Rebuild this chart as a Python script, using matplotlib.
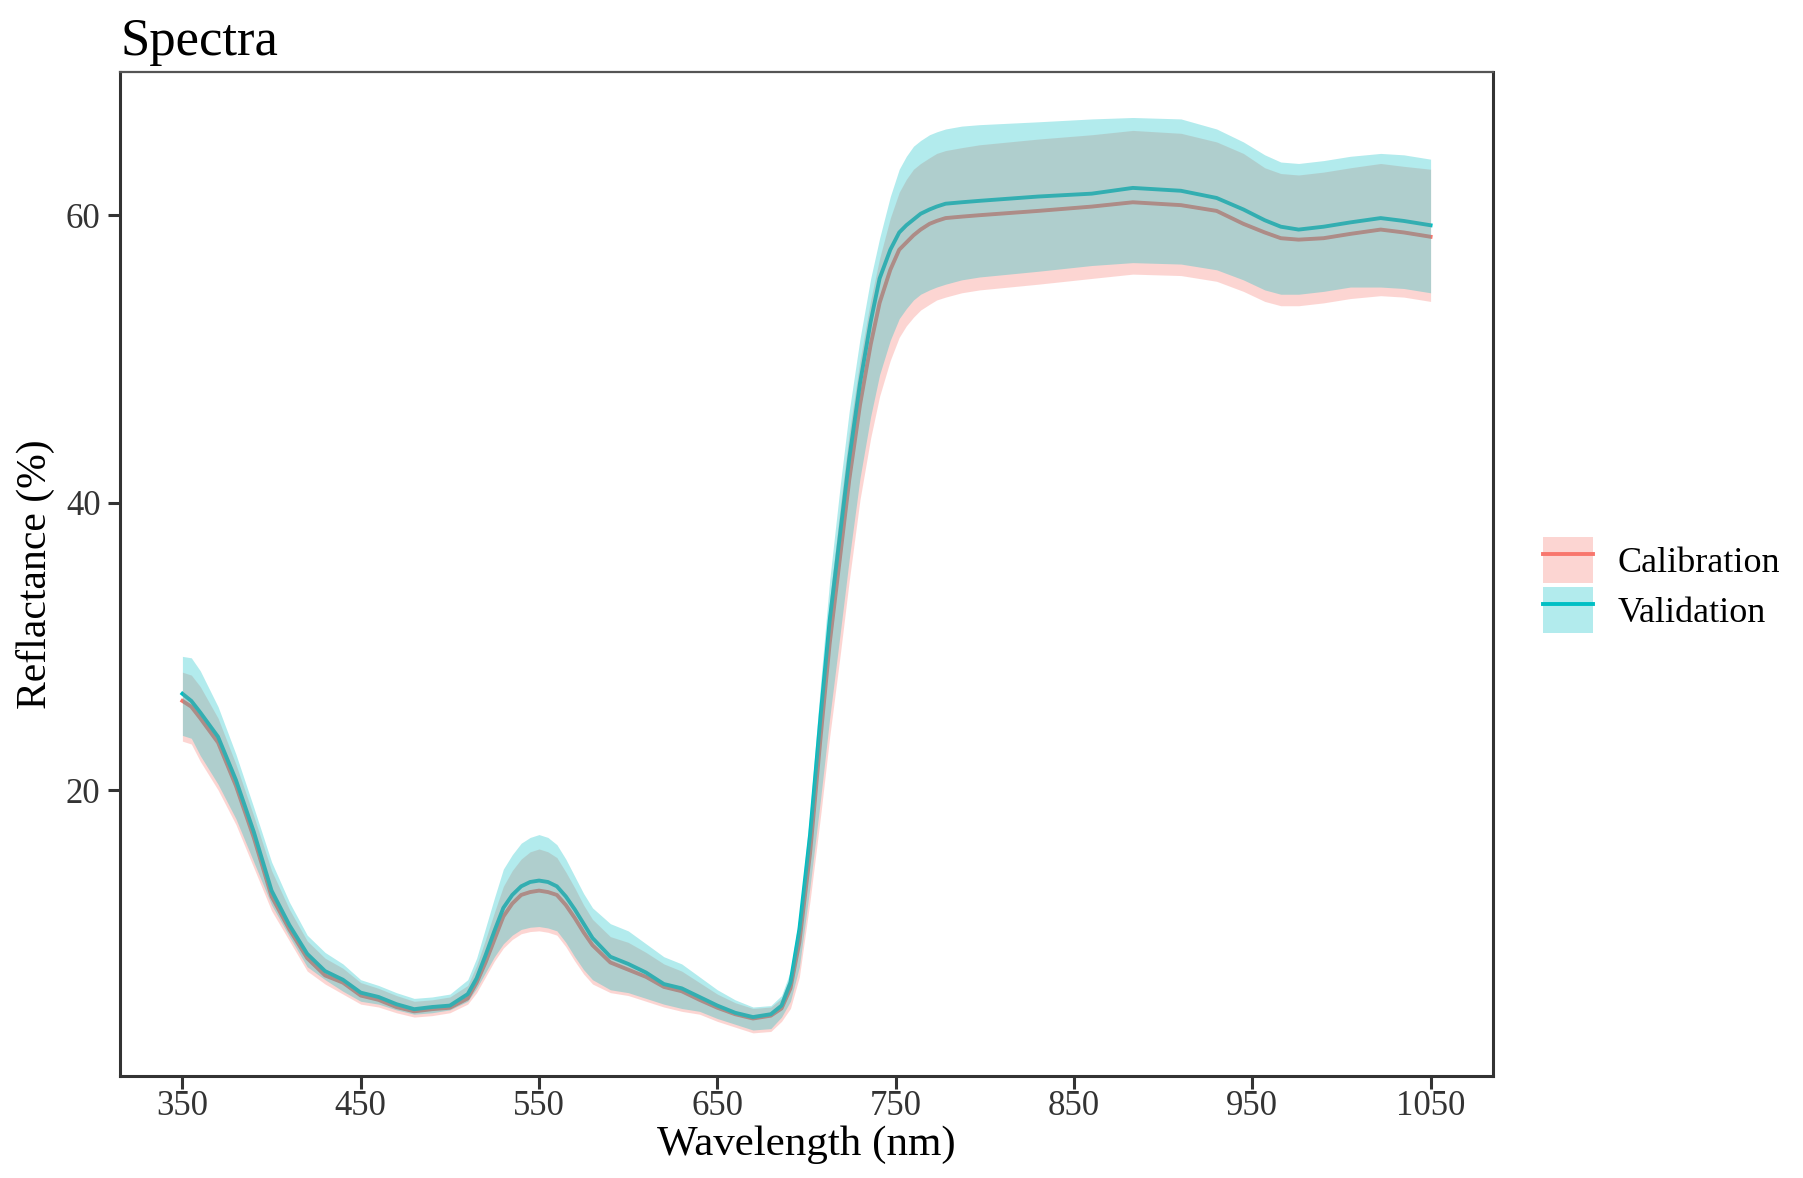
import matplotlib
matplotlib.use("Agg")
import matplotlib.pyplot as plt
from matplotlib.patches import Patch
from matplotlib.lines import Line2D

plt.rcParams['font.family'] = ['Liberation Serif', 'DejaVu Serif']

wavelength = [350, 355, 360, 370, 380, 390, 400, 410, 420, 430, 440, 450, 460, 470, 480, 490, 500, 510,
              515, 520, 525, 530, 535, 540, 545, 550, 555, 560, 565, 570, 575, 580, 590, 600, 610, 620,
              630, 640, 650, 660, 670, 680, 686, 691, 696, 702, 708, 713, 719, 724, 730, 736, 741, 747,
              752, 756, 760, 764, 769, 773, 778, 787, 797, 830, 860, 883, 910, 930, 945, 957, 966, 976,
              990, 1005, 1022, 1035, 1050]

cal_mean = [26.2, 25.8, 25.0, 23.3, 20.3, 16.7, 12.6, 10.3, 8.3, 7.1, 6.6, 5.7, 5.4, 4.9, 4.6, 4.75, 4.85, 5.5,
            6.6, 8.0, 9.6, 11.2, 12.1, 12.7, 12.9, 13.0, 12.9, 12.7, 12.0, 11.1, 10.1, 9.2, 8.0, 7.5, 7.0, 6.3,
            6.0, 5.4, 4.85, 4.4, 4.1, 4.3, 4.8, 6.2, 9.4, 15.6, 23.8, 30.2, 36.4, 41.6, 46.8, 51.0, 53.9, 56.2,
            57.6, 58.1, 58.6, 59.0, 59.4, 59.6, 59.8, 59.9, 60.0, 60.3, 60.6, 60.9, 60.7, 60.3, 59.4, 58.8, 58.4, 58.3,
            58.4, 58.7, 59.0, 58.8, 58.5]
cal_lower = [23.4, 23.2, 22.0, 20.0, 17.6, 14.6, 11.6, 9.5, 7.4, 6.5, 5.8, 5.1, 4.9, 4.5, 4.2, 4.3, 4.5, 5.1,
             5.9, 7.0, 8.1, 9.0, 9.6, 10.0, 10.15, 10.2, 10.1, 9.9, 9.1, 8.1, 7.2, 6.5, 5.9, 5.7, 5.3, 4.9,
             4.6, 4.4, 3.9, 3.5, 3.1, 3.2, 3.9, 4.8, 7.0, 12.3, 18.3, 23.7, 29.5, 34.6, 40.2, 44.5, 47.4, 49.9,
             51.5, 52.3, 52.9, 53.4, 53.8, 54.1, 54.3, 54.6, 54.8, 55.2, 55.6, 55.9, 55.8, 55.4, 54.7, 54.0, 53.7, 53.7,
             53.9, 54.2, 54.4, 54.3, 54.0]
cal_upper = [28.2, 28.0, 27.2, 25.0, 21.8, 18.2, 14.4, 11.7, 9.5, 8.3, 7.6, 6.6, 6.2, 5.7, 5.3, 5.4, 5.6, 6.4,
             7.8, 9.6, 11.5, 13.3, 14.4, 15.2, 15.7, 15.9, 15.7, 15.3, 14.3, 13.2, 12.0, 11.0, 9.8, 9.4, 8.7, 7.9,
             7.4, 6.6, 5.8, 5.2, 4.8, 4.9, 5.5, 7.1, 10.8, 17.7, 26.4, 33.2, 39.8, 44.9, 49.9, 54.1, 57.0, 59.8,
             61.6, 62.5, 63.2, 63.6, 64.0, 64.3, 64.5, 64.7, 64.9, 65.3, 65.6, 65.9, 65.7, 65.1, 64.3, 63.3, 62.9, 62.8,
             63.0, 63.3, 63.6, 63.4, 63.2]

val_mean = [26.7, 26.2, 25.4, 23.7, 20.7, 17.1, 13.0, 10.6, 8.6, 7.4, 6.8, 5.9, 5.6, 5.1, 4.75, 4.9, 5.0, 5.8,
            6.9, 8.5, 10.2, 11.8, 12.7, 13.3, 13.6, 13.7, 13.6, 13.3, 12.6, 11.7, 10.7, 9.7, 8.4, 7.9, 7.3, 6.5,
            6.2, 5.6, 5.0, 4.5, 4.2, 4.4, 5.0, 6.6, 10.3, 16.9, 25.3, 31.8, 38.0, 43.1, 48.3, 52.6, 55.6, 57.6,
            58.8, 59.3, 59.7, 60.1, 60.4, 60.6, 60.8, 60.9, 61.0, 61.3, 61.5, 61.9, 61.7, 61.2, 60.4, 59.65, 59.2, 59.0,
            59.2, 59.5, 59.8, 59.6, 59.3]
val_lower = [23.8, 23.6, 22.4, 20.4, 18.0, 15.0, 12.0, 9.8, 7.7, 6.8, 6.0, 5.3, 5.1, 4.7, 4.4, 4.5, 4.7, 5.3,
             6.2, 7.3, 8.4, 9.3, 9.9, 10.3, 10.45, 10.5, 10.4, 10.2, 9.4, 8.4, 7.5, 6.8, 6.1, 5.9, 5.5, 5.1,
             4.8, 4.6, 4.1, 3.7, 3.3, 3.4, 4.2, 5.3, 7.7, 13.3, 19.5, 25.0, 31.0, 36.1, 41.7, 46.0, 48.9, 51.3,
             52.8, 53.5, 54.1, 54.5, 54.8, 55.0, 55.2, 55.5, 55.7, 56.1, 56.5, 56.7, 56.6, 56.2, 55.5, 54.8, 54.5, 54.5,
             54.7, 55.0, 55.0, 54.9, 54.6]
val_upper = [29.3, 29.2, 28.3, 25.8, 22.5, 18.8, 15.0, 12.2, 9.9, 8.7, 7.9, 6.8, 6.4, 5.9, 5.5, 5.6, 5.8, 6.8,
             8.3, 10.4, 12.5, 14.5, 15.5, 16.3, 16.7, 16.9, 16.7, 16.2, 15.2, 14.0, 12.8, 11.8, 10.7, 10.2, 9.3, 8.4,
             7.9, 7.0, 6.1, 5.4, 4.9, 5.0, 5.7, 7.4, 11.3, 18.5, 27.6, 34.6, 41.3, 46.4, 51.4, 55.6, 58.4, 61.3,
             63.2, 64.1, 64.8, 65.2, 65.6, 65.8, 66.0, 66.2, 66.3, 66.5, 66.7, 66.8, 66.7, 66.0, 65.1, 64.2, 63.7, 63.6,
             63.8, 64.1, 64.3, 64.2, 63.9]

series_names = ["Calibration", "Validation"]
series_colors = ["#F8766D", "#00BFC4"]
x_ticks = [350, 450, 550, 650, 750, 850, 950, 1050]
y_ticks = [20, 40, 60]

W, H = 1803, 1178
fig = plt.figure(figsize=(W / 100, H / 100), dpi=100)
ax = fig.add_axes([120 / W, 1 - 1076 / H, (1493 - 120) / W, (1076 - 71.5) / H])

# lines first, ribbons on top (as in the reference)
ax.plot(wavelength, cal_mean, color=series_colors[0], lw=2.8, zorder=2)
ax.plot(wavelength, val_mean, color=series_colors[1], lw=2.8, zorder=2)
ax.fill_between(wavelength, cal_lower, cal_upper, color=series_colors[0], alpha=0.3, lw=0, zorder=3)
ax.fill_between(wavelength, val_lower, val_upper, color=series_colors[1], alpha=0.3, lw=0, zorder=4)

ax.set_xlim(315, 1085)
ax.set_ylim(0.1, 70.0)
ax.set_xticks(x_ticks)
ax.set_yticks(y_ticks)
ax.tick_params(axis='both', direction='out', length=9, width=2.2, color='#333333',
               labelsize=25, labelcolor='#333333')
ax.tick_params(axis='x', pad=1)
ax.tick_params(axis='y', pad=5)

for side in ['left', 'bottom', 'right']:
    ax.spines[side].set_linewidth(2.2)
    ax.spines[side].set_color('#333333')
ax.spines['top'].set_linewidth(1.6)
ax.spines['top'].set_color('#555555')

ax.set_xlabel("Wavelength (nm)", fontsize=31, color='black', labelpad=2)
ax.set_ylabel("Reflactance (%)", fontsize=30, color='black', labelpad=8)
ax.set_title("Spectra", fontsize=38, loc='left', color='black', pad=12)

handles = [(Patch(facecolor=c, alpha=0.3, edgecolor='none'), Line2D([], [], color=c, lw=2.8))
           for c in series_colors]
fig.legend(handles, series_names, loc='center left', bbox_to_anchor=(1543 / W, 1 - 585 / H),
           frameon=False, fontsize=26, handlelength=1.38, handleheight=1.61,
           labelspacing=0.085, handletextpad=0.68, borderpad=0, borderaxespad=0)

fig.savefig("out.png", dpi=100, facecolor='white')
